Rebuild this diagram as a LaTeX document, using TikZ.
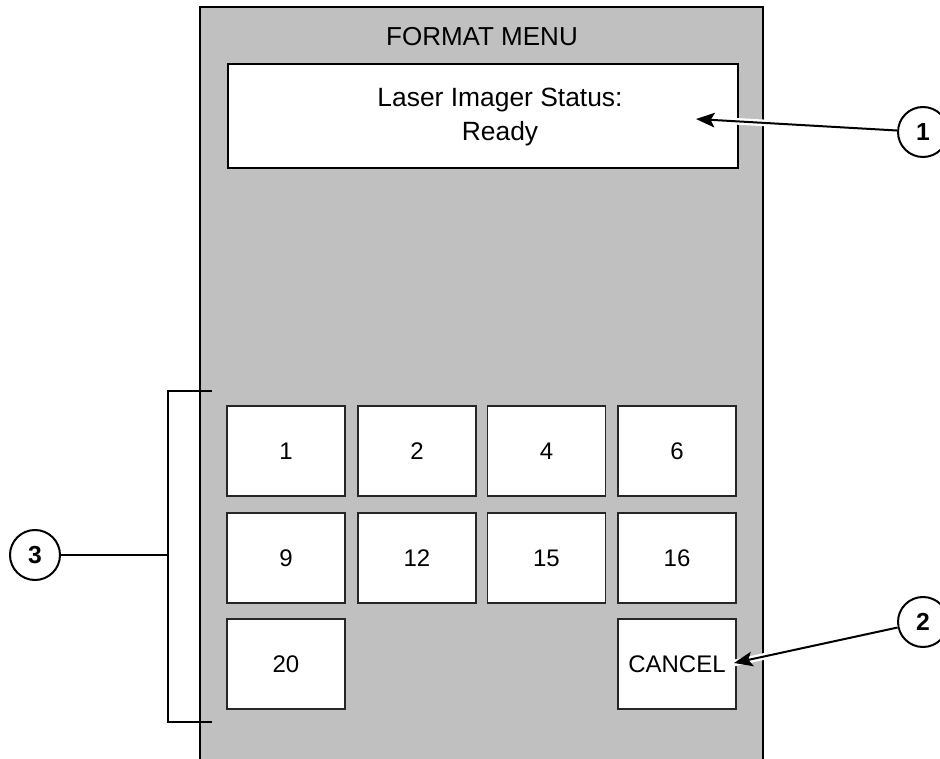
\documentclass[tikz,border=0pt]{standalone}
\usepackage{fontspec}
\setmainfont{Liberation Sans}
\usetikzlibrary{arrows.meta}
\definecolor{panelgray}{RGB}{192,192,192}
\begin{document}
\begin{tikzpicture}[x=0.75pt,y=-0.75pt,
  keybox/.style={draw=black!85,line width=0.8pt,fill=white,minimum width=88.5pt,minimum height=67.5pt,inner sep=0pt,font=\fontsize{18}{20}\selectfont},
  callout/.style={draw,circle,line width=1.5pt,fill=white,minimum size=37.5pt,inner sep=0pt,font=\bfseries\fontsize{18.5}{20}\selectfont},
  leader/.style={line width=1.5pt},
  pointer/.style={line width=1.5pt,-{Stealth[length=14pt,width=11pt,inset=3pt]}},
  halo/.style={white,line width=5pt}]
\clip (0,0) rectangle (940,759);
\fill[white] (0,0) rectangle (940,759);
% menu panel, open at the bottom
\draw[fill=panelgray,line width=1.6pt] (200,800) -- (200,7) -- (763,7) -- (763,800);
\node[font=\fontsize{19.5}{22}\selectfont] (title) at (482,37) {FORMAT MENU};
\node[draw,line width=0.8pt,fill=white,minimum width=382.5pt,minimum height=78pt,inner sep=0pt] (status) at (483,116) {};
\node[font=\fontsize{19.8}{25.5}\selectfont,align=center] (statustext) at (500,117) {Laser Imager Status:\\Ready};
% format keys
\node[keybox] (k1) at (286,451) {1};
\node[keybox] (k2) at (417,451) {2};
\node[keybox] (k4) at (546.5,451) {4};
\node[keybox] (k6) at (677,451) {6};
\node[keybox] (k9) at (286,558) {9};
\node[keybox] (k12) at (417,558) {12};
\node[keybox] (k15) at (546.5,558) {15};
\node[keybox] (k16) at (677,558) {16};
\node[keybox] (k20) at (286,664) {20};
\node[keybox] (kcancel) at (677,664) {CANCEL};
% callouts
\node[callout] (c1) at (923,132) {1};
\node[callout] (c2) at (923,622) {2};
\node[callout] (c3) at (35,555) {3};
\coordinate (t1) at (696,119);
\coordinate (t2) at (734,663);
\draw[halo] (c1) -- (t1);
\draw[pointer] (c1) -- (t1);
\draw[halo] (c2) -- (t2);
\draw[pointer] (c2) -- (t2);
% bracket around the keys
\coordinate (bt) at (212,391);
\coordinate (bb) at (212,722);
\coordinate (bm) at (168,555);
\draw[leader] (bt) -- (168,391) -- (168,722) -- (bb);
\draw[leader] (c3) -- (bm);
\end{tikzpicture}
\end{document}
